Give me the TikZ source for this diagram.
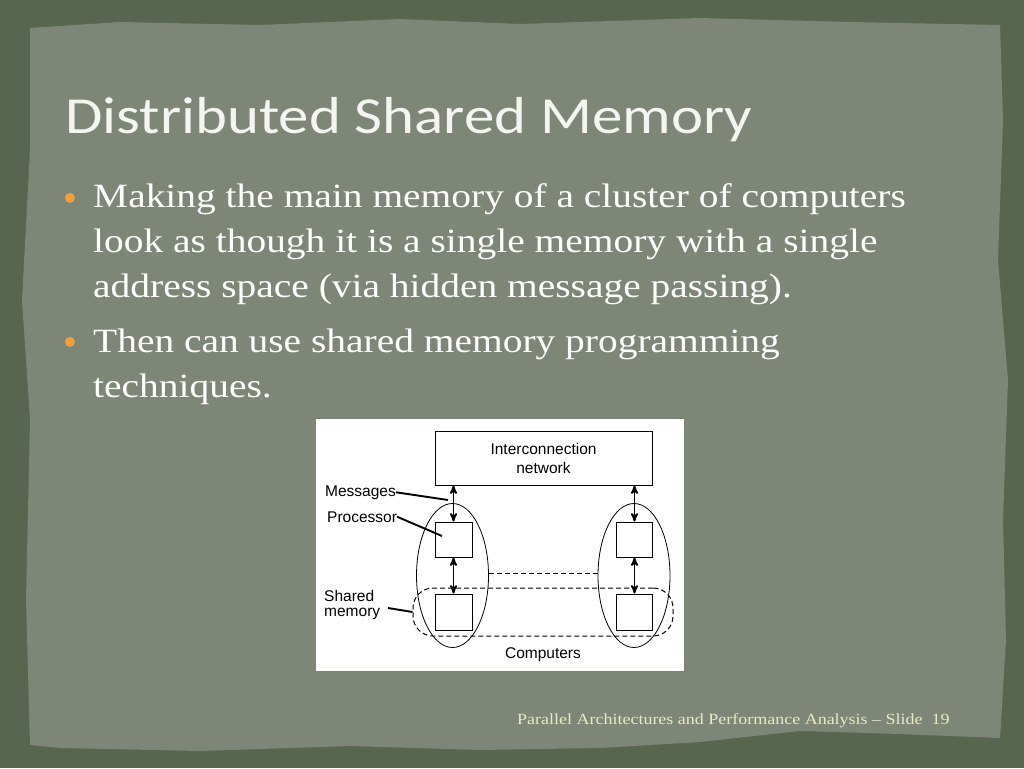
\documentclass[tikz,border=0pt]{standalone}
\usepackage{fontspec}
\setmainfont{Liberation Serif}
\newfontfamily\titlefont[FakeStretch=1.17]{Carlito}
\newfontfamily\bodyfont[FakeStretch=1.16]{Liberation Serif}
\newfontfamily\figfont{Liberation Sans}
\usetikzlibrary{shapes.geometric, arrows, positioning}

\definecolor{frame}{RGB}{88,102,80}
\definecolor{paper}{RGB}{125,134,119}
\definecolor{bulletorange}{RGB}{240,160,64}
\definecolor{footer}{RGB}{232,234,200}
\definecolor{titlewhite}{RGB}{244,244,240}

\begin{document}
\begin{tikzpicture}[x=1pt,y=-1pt,>=stealth']
                \tikzstyle{box}=[draw=black,fill=white,line width=0.9pt,inner sep=0pt]
                \tikzstyle{computer}=[ellipse,draw=black,line width=0.8pt,minimum width=72pt,minimum height=144pt,inner sep=0pt]
                \tikzstyle{lbl}=[font=\figfont\fontsize{15.5}{19}\selectfont,text=black,inner sep=0pt]
                \tikzstyle{leader}=[-,line width=1.9pt]
                \tikzstyle{link}=[<->,line width=1.8pt]
                \tikzstyle{bodytext}=[anchor=base west,inner sep=0pt,text=white,font=\bodyfont\fontsize{34}{40}\selectfont]
                \tikzstyle{bullet}=[circle,fill=bulletorange,minimum size=10pt,inner sep=0pt]
                \tikzstyle{shared}=[draw=black,line width=1pt,dash pattern=on 5pt off 3pt,rounded corners=20pt]

                % slide background
                \fill[frame] (0,0) rectangle (1024,768);
                \fill[paper] (30,28) -- (120,22) -- (260,25) -- (400,19) -- (520,24) -- (700,18) -- (850,22)
                -- (1000,25) -- (1003,120) -- (998,260) -- (1008,380) -- (1003,520) -- (1006,640)
                -- (1000,738) -- (900,734) -- (800,731) -- (700,742) -- (600,748) -- (480,750)
                -- (350,746) -- (200,751) -- (60,748) -- (30,745) -- (26,600) -- (30,420)
                -- (22,300) -- (30,150) -- cycle;
                \useasboundingbox (0,0) rectangle (1024,768);

                % title and bullets
                \node[anchor=base west,inner sep=0pt,text=titlewhite,font=\titlefont\fontsize{52}{60}\selectfont] (T) at (65,133) {Distributed Shared Memory};
                \node[bullet]   (B1) at (70,198) {};
                \node[bodytext] (L1) at (93,207) {Making the main memory of a cluster of computers};
                \node[bodytext] (L2) at (93,252) {look as though it is a single memory with a single};
                \node[bodytext] (L3) at (93,297) {address space (via hidden message passing).};
                \node[bullet]   (B2) at (70,342) {};
                \node[bodytext] (L4) at (93,352) {Then can use shared memory programming};
                \node[bodytext] (L5) at (93,397) {techniques.};

                % figure
                \node[fill=white,minimum width=368pt,minimum height=252pt,inner sep=0pt] (W) at (500,545) {};
                \node[box,lbl,minimum width=217pt,minimum height=54pt,align=center] (N) at (543.5,458) {Interconnection\\network};
                \node[box,minimum width=37pt,minimum height=35pt] (P1) at (453.5,539.5) {};
                \node[box,minimum width=37pt,minimum height=36pt] (M1) at (453.5,612) {};
                \node[box,minimum width=36pt,minimum height=35pt] (P2) at (634.5,539.5) {};
                \node[box,minimum width=36pt,minimum height=36pt] (M2) at (634.5,612) {};
                \node[computer] (C1) at (452.5,575.5) {};
                \node[computer] (C2) at (634,575.5) {};
                \node[shared,minimum width=260pt,minimum height=48pt] (S) at (543,612) {};

                \path
                (N.south -| P1.north) edge[link]    (P1.north)
                (P1)                  edge[link]    (M1)
                (N.south -| P2.north) edge[link]    (P2.north)
                (P2)                  edge[link]    (M2)
                (C1.3)                edge[shared]  (C2.177);

                % labels
                \node[lbl,anchor=base west] (LM) at (325,496) {Messages};
                \node[lbl,anchor=base west] (LP) at (327,522) {Processor};
                \node[lbl,anchor=north west,align=left,font=\figfont\fontsize{15.5}{15}\selectfont] (LS) at (324,590) {Shared\\memory};
                \node[lbl] (LC) at (543,655) {Computers};
                \coordinate (MT) at (448,500);
                \coordinate (PT) at (442,536);
                \coordinate (SL) at (388,608);
                \draw[leader] (LM.east) -- (MT);
                \draw[leader] (LP.east) -- (PT);
                \draw[leader] (SL) -- (S.west);

                % footer
                \node[anchor=base west,inner sep=0pt,text=footer,font=\bodyfont\fontsize{15.5}{18}\selectfont] (F) at (517,724) {Parallel Architectures and Performance Analysis – Slide\ \ 19};
\end{tikzpicture}
\end{document}
